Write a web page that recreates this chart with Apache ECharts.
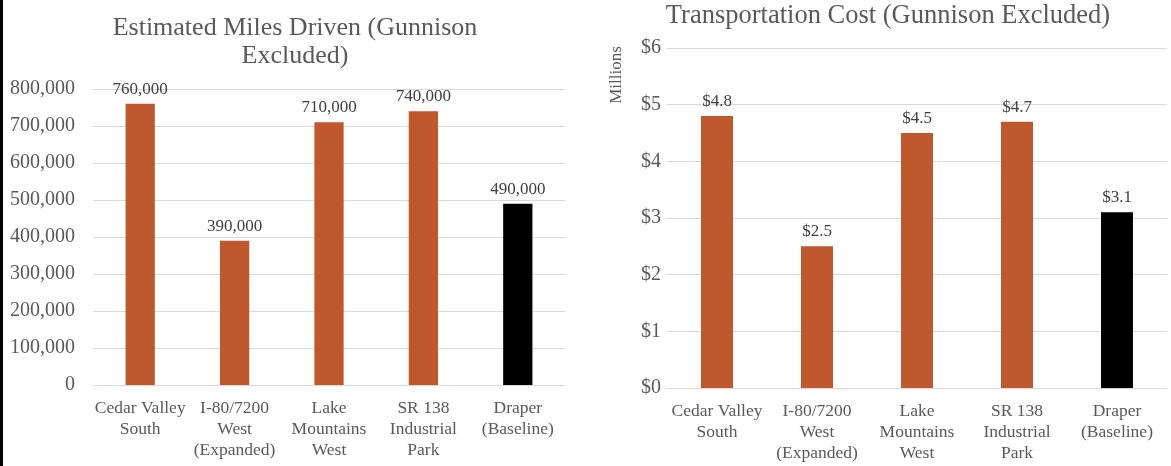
<!DOCTYPE html>
<html>
<head>
<meta charset="utf-8">
<script src="https://cdn.jsdelivr.net/npm/echarts@6/dist/echarts.min.js"></script>
<style>
  html, body { margin: 0; padding: 0; background: #fff; }
  #chart { width: 1171px; height: 466px; }
</style>
</head>
<body>
<div id="chart"></div>
<script>
// data
let categories = [
  "Cedar Valley\nSouth",
  "I-80/7200\nWest\n(Expanded)",
  "Lake\nMountains\nWest",
  "SR 138\nIndustrial\nPark",
  "Draper\n(Baseline)"
];
let milesValues = [760000, 390000, 710000, 740000, 490000];
let costValues = [4.8, 2.5, 4.5, 4.7, 3.1]; // millions of $
let milesTicks = [0, 800000, 100000]; // min, max, interval
let costTicks = [0, 6, 1];

let font = "Liberation Serif";
let grey = "#595959";
let orange = "#bf592d";

let dom = document.getElementById("chart");
let myChart = echarts.init(dom, null, { renderer: "canvas" });

// baseline bar is drawn black, the others orange
function barColor(params) {
  return params.dataIndex === categories.length - 1 ? "#000000" : orange;
}

let catAxis = function (gridIndex) {
  return {
    type: "category",
    gridIndex: gridIndex,
    data: categories,
    axisLine: { show: true, lineStyle: { color: "#d9d9d9" } },
    axisTick: { show: false },
    axisLabel: {
      fontFamily: font,
      fontSize: 17.5,
      color: grey,
      lineHeight: 21,
      margin: 13,
      interval: 0
    }
  };
};

let option = {
  animation: false,
  title: [
    {
      text: "Estimated Miles Driven (Gunnison\nExcluded)",
      left: 290,
      top: 9,
      textAlign: "center",
      textStyle: { fontFamily: font, fontSize: 26, fontWeight: "normal", color: grey, lineHeight: 28 }
    },
    {
      text: "Transportation Cost (Gunnison Excluded)",
      left: 883,
      top: -3,
      textAlign: "center",
      textStyle: { fontFamily: font, fontSize: 26.5, fontWeight: "normal", color: grey, lineHeight: 28 }
    }
  ],
  graphic: [
    { type: "rect", left: 0, top: 0, shape: { width: 3, height: 466 }, style: { fill: "#000" } },
    {
      type: "text",
      x: 617,
      y: 75,
      rotation: Math.PI / 2,
      style: {
        text: "Millions",
        fontFamily: font,
        fontSize: 17,
        fill: grey,
        align: "center",
        verticalAlign: "middle"
      }
    }
  ],
  grid: [
    { left: 93, right: 606, top: 89, bottom: 81 },
    { left: 667, right: 4, top: 48, bottom: 78 }
  ],
  xAxis: [catAxis(0), catAxis(1)],
  yAxis: [
    {
      type: "value",
      gridIndex: 0,
      min: milesTicks[0],
      max: milesTicks[1],
      interval: milesTicks[2],
      splitLine: { lineStyle: { color: "#d9d9d9" } },
      axisLabel: {
        fontFamily: font,
        fontSize: 20,
        color: grey,
        margin: 18,
        formatter: v => v.toLocaleString("en-US")
      }
    },
    {
      type: "value",
      gridIndex: 1,
      min: costTicks[0],
      max: costTicks[1],
      interval: costTicks[2],
      splitLine: { lineStyle: { color: "#d9d9d9" } },
      axisLabel: {
        fontFamily: font,
        fontSize: 20,
        color: grey,
        margin: 6,
        formatter: v => "$" + v
      }
    }
  ],
  series: [
    {
      name: "Miles",
      type: "bar",
      xAxisIndex: 0,
      yAxisIndex: 0,
      data: milesValues,
      barWidth: "31%",
      itemStyle: { color: barColor },
      label: {
        show: true,
        position: "top",
        distance: 6,
        fontFamily: font,
        fontSize: 17,
        color: "#404040",
        formatter: p => p.value.toLocaleString("en-US")
      }
    },
    {
      name: "Cost",
      type: "bar",
      xAxisIndex: 1,
      yAxisIndex: 1,
      data: costValues,
      barWidth: "32%",
      itemStyle: { color: barColor },
      label: {
        show: true,
        position: "top",
        distance: 6,
        fontFamily: font,
        fontSize: 17,
        color: "#404040",
        formatter: p => "$" + p.value.toFixed(1)
      }
    }
  ]
};

myChart.setOption(option);
window.addEventListener("resize", myChart.resize);
</script>
</body>
</html>
